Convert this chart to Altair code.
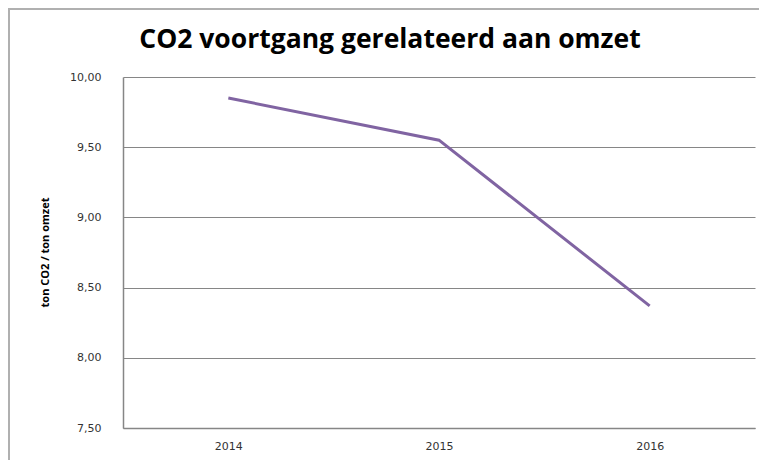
import altair as alt
import pandas as pd

years = ["2014", "2015", "2016"]
values = [9.85, 9.55, 8.37]
y_ticks = [7.5, 8.0, 8.5, 9.0, 9.5, 10.0]

df = pd.DataFrame({"jaar": years, "waarde": values})

line = alt.Chart(df).mark_line(color="#8064A2", strokeWidth=3).encode(
    x=alt.X("jaar:N", sort=years, scale=alt.Scale(type="point", padding=0.5),
            axis=alt.Axis(title=None, labelAngle=0, ticks=False, labelPadding=12,
                          labelFont="DejaVu Sans", labelFontSize=11, labelColor="#333333",
                          domainColor="#868686", domainWidth=1.5, grid=False)),
    y=alt.Y("waarde:Q", scale=alt.Scale(domain=[7.5, 10.0], nice=False, zero=False),
            axis=alt.Axis(title="ton CO2 / ton omzet", values=y_ticks, ticks=False,
                          labelPadding=22,
                          labelExpr="replace(format(datum.value, '.2f'), '.', ',')",
                          labelFont="DejaVu Sans", labelFontSize=11, labelColor="#333333",
                          domainColor="#868686", domainWidth=1.5,
                          gridColor="#868686", gridWidth=1,
                          titleFont="Open Sans", titleFontSize=11, titleFontWeight="bold",
                          titleColor="#000000", titleX=-78, titleY=175,
                          titleAngle=270, titleAlign="center", titleBaseline="middle")),
)

frame_v = alt.Chart(df).mark_rule(color="#b0b0b0", strokeWidth=2).encode(
    x=alt.value(-114), y=alt.value(-68), y2=alt.value(400)
)
frame_h = alt.Chart(df).mark_rule(color="#b0b0b0", strokeWidth=2).encode(
    x=alt.value(-115), x2=alt.value(700), y=alt.value(-68)
)

chart = alt.layer(frame_v, frame_h, line).properties(
    width=632,
    height=351,
    autosize=alt.AutoSizeParams(type="none"),
    padding={"left": 115, "top": 69, "right": 4, "bottom": 32},
    title=alt.TitleParams("CO2 voortgang gerelateerd aan omzet", font="Open Sans",
                          fontSize=26.5, fontWeight="bold", color="#000000",
                          anchor="middle", frame="group", dx=-49, dy=45, offset=0),
).configure_view(stroke=None)

chart.save("out.html", embed_options={"renderer": "svg", "actions": False})
